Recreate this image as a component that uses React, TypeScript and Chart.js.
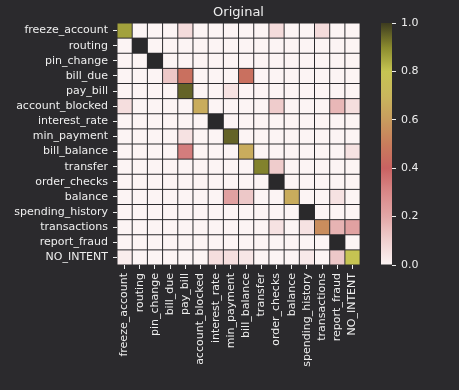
import React, { useEffect, useRef } from 'react';
import { Chart, registerables } from 'chart.js';
Chart.register(...registerables);

const intents = [
  'freeze_account', 'routing', 'pin_change', 'bill_due', 'pay_bill', 'account_blocked',
  'interest_rate', 'min_payment', 'bill_balance', 'transfer', 'order_checks', 'balance',
  'spending_history', 'transactions', 'report_fraud', 'NO_INTENT',
];

// rows = true intent, columns = predicted intent (same order as intents)
const rowFreezeAccount = [0.86, 0, 0, 0, 0.07, 0, 0, 0, 0, 0, 0.07, 0, 0, 0.07, 0, 0];
const rowRouting = [0, 1, 0, 0, 0, 0, 0, 0, 0, 0, 0, 0, 0, 0, 0, 0];
const rowPinChange = [0, 0, 1, 0, 0, 0, 0, 0, 0, 0, 0, 0, 0, 0, 0, 0];
const rowBillDue = [0, 0, 0, 0.12, 0.45, 0, 0, 0, 0.45, 0, 0, 0, 0, 0, 0, 0];
const rowPayBill = [0, 0, 0, 0, 0.95, 0, 0, 0.05, 0, 0, 0, 0, 0, 0, 0, 0];
const rowAccountBlocked = [0.06, 0, 0, 0, 0, 0.66, 0, 0, 0, 0, 0.11, 0, 0, 0, 0.16, 0.06];
const rowInterestRate = [0, 0, 0, 0, 0, 0, 1, 0, 0, 0, 0, 0, 0, 0, 0, 0];
const rowMinPayment = [0, 0, 0, 0, 0.05, 0, 0, 0.95, 0, 0, 0, 0, 0, 0, 0, 0];
const rowBillBalance = [0, 0, 0, 0, 0.33, 0, 0, 0, 0.66, 0, 0, 0, 0, 0, 0, 0.05];
const rowTransfer = [0, 0, 0, 0, 0, 0, 0, 0, 0, 0.91, 0.11, 0, 0, 0, 0, 0];
const rowOrderChecks = [0, 0, 0, 0, 0, 0, 0, 0, 0, 0, 1, 0, 0, 0, 0, 0];
const rowBalance = [0, 0, 0, 0, 0, 0, 0, 0.22, 0.12, 0, 0, 0.66, 0, 0, 0.05, 0];
const rowSpendingHistory = [0, 0, 0, 0, 0, 0, 0, 0, 0, 0, 0, 0, 1, 0, 0, 0];
const rowTransactions = [0, 0, 0, 0, 0, 0, 0, 0, 0, 0, 0.05, 0, 0.05, 0.55, 0.17, 0.22];
const rowReportFraud = [0, 0, 0, 0, 0, 0, 0, 0, 0, 0, 0, 0, 0, 0, 1, 0];
const rowNoIntent = [0.02, 0, 0, 0, 0, 0, 0.06, 0.06, 0.04, 0, 0, 0, 0.03, 0, 0.12, 0.8];

const matrix = [
  rowFreezeAccount, rowRouting, rowPinChange, rowBillDue, rowPayBill, rowAccountBlocked,
  rowInterestRate, rowMinPayment, rowBillBalance, rowTransfer, rowOrderChecks, rowBalance,
  rowSpendingHistory, rowTransactions, rowReportFraud, rowNoIntent,
];

const colorbarTicks = [0, 0.2, 0.4, 0.6, 0.8, 1.0];

const BG = '#2b2a2d';
const TXT = '#eeeeee';
const FONT = 'DejaVu Sans';

const stops: [number, string][] = [
  [0.0, '#fcf4f4'],
  [0.1, '#f0d0d0'],
  [0.2, '#e3a7a7'],
  [0.3, '#d98888'],
  [0.4, '#c96262'],
  [0.5, '#c97d5c'],
  [0.6, '#c89c5e'],
  [0.7, '#c9b65c'],
  [0.8, '#c6c452'],
  [0.9, '#8a8a2e'],
  [1.0, '#3d3b1f'],
];

function hexToRgb(h: string) {
  return [parseInt(h.slice(1, 3), 16), parseInt(h.slice(3, 5), 16), parseInt(h.slice(5, 7), 16)];
}

function cmap(v: number) {
  const t = Math.max(0, Math.min(1, v));
  for (let i = 0; i < stops.length - 1; i++) {
    const [v0, c0] = stops[i];
    const [v1, c1] = stops[i + 1];
    if (t <= v1) {
      const f = (t - v0) / (v1 - v0);
      const a = hexToRgb(c0);
      const b = hexToRgb(c1);
      const c = a.map((x, k) => Math.round(x + (b[k] - x) * f));
      return `rgb(${c[0]},${c[1]},${c[2]})`;
    }
  }
  return stops[stops.length - 1][1];
}

// perfect (1.0) cells render in the dark background tone, as in the reference
function cellColor(v: number) {
  return v >= 0.999 ? '#2a292b' : cmap(v);
}

export default function App() {
  const mainRef = useRef<HTMLCanvasElement>(null);
  const barRef = useRef<HTMLCanvasElement>(null);

  useEffect(() => {
    document.body.style.margin = '0';
    document.body.style.background = BG;
    const font = { family: FONT, size: 11 };

    const datasets = matrix.map((row, r) => ({
      label: intents[r],
      data: row.map(() => [r + 0.033, r + 0.967]),
      backgroundColor: row.map((v) => cellColor(v)),
      borderWidth: 0,
      inflateAmount: 0,
      grouped: false,
      barPercentage: 0.935,
      categoryPercentage: 1,
    }));

    const main = new Chart(mainRef.current!, {
      type: 'bar',
      data: { labels: intents, datasets: datasets as any },
      options: {
        animation: false,
        responsive: false,
        maintainAspectRatio: false,
        layout: { padding: { left: 0, right: 5, top: 0, bottom: 0 } },
        plugins: {
          legend: { display: false },
          tooltip: { enabled: false },
          title: {
            display: true,
            text: 'Original',
            color: TXT,
            fullSize: false,
            font: { family: FONT, size: 13, weight: 'normal' },
            padding: { top: 4.5, bottom: 2.9 },
          },
        },
        scales: {
          x: {
            type: 'category',
            offset: true,
            grid: { display: true, offset: false, drawOnChartArea: false, drawTicks: true, tickLength: 4, tickColor: TXT },
            border: { display: false },
            ticks: { color: TXT, font, minRotation: 90, maxRotation: 90, autoSkip: false, padding: 4 },
            afterFit: (s: any) => { s.height = 125; },
          },
          y: {
            type: 'linear',
            min: 0,
            max: 16,
            reverse: true,
            grid: { display: true, drawOnChartArea: false, drawTicks: true, tickLength: 4, tickColor: TXT },
            border: { display: false },
            ticks: {
              color: TXT,
              font,
              padding: 5,
              autoSkip: false,
              callback: (v: any) => intents[Math.floor(Number(v))] ?? '',
            },
            afterBuildTicks: (s: any) => { s.ticks = intents.map((_, i) => ({ value: i + 0.5 })); },
            afterFit: (s: any) => { s.width = 117; },
          },
        },
      } as any,
    });

    const bar = new Chart(barRef.current!, {
      type: 'bar',
      data: {
        labels: [''],
        datasets: [{
          data: [[0, 1]] as any,
          backgroundColor: (ctx: any) => {
            const area = ctx.chart.chartArea;
            if (!area) return cmap(0.5);
            const g = ctx.chart.ctx.createLinearGradient(0, area.bottom, 0, area.top);
            for (let i = 0; i <= 40; i++) g.addColorStop(i / 40, cmap(i / 40));
            return g;
          },
          borderWidth: 0,
          inflateAmount: 0,
          barPercentage: 1,
          categoryPercentage: 1,
        } as any],
      },
      options: {
        animation: false,
        responsive: false,
        maintainAspectRatio: false,
        layout: { padding: { left: 11, right: 0, top: 23, bottom: 125 } },
        plugins: { legend: { display: false }, tooltip: { enabled: false }, title: { display: false } },
        scales: {
          x: { display: false },
          y: {
            position: 'right',
            min: 0,
            max: 1,
            grid: { display: true, drawOnChartArea: false, drawTicks: true, tickLength: 4, tickColor: TXT },
            border: { display: false },
            ticks: { color: TXT, font, padding: 5, callback: (v: any) => Number(v).toFixed(1) },
            afterBuildTicks: (s: any) => { s.ticks = colorbarTicks.map((v) => ({ value: v })); },
            afterFit: (s: any) => { s.width = 67; },
          },
        },
      } as any,
    });

    return () => { main.destroy(); bar.destroy(); };
  }, []);

  return (
    <div style={{ position: 'relative', width: 459, height: 390, background: BG, overflow: 'hidden' }}>
      <canvas ref={mainRef} width={370} height={390} style={{ position: 'absolute', left: 0, top: 0, display: 'block' }} />
      <canvas ref={barRef} width={89} height={390} style={{ position: 'absolute', left: 370, top: 0, display: 'block' }} />
    </div>
  );
}
